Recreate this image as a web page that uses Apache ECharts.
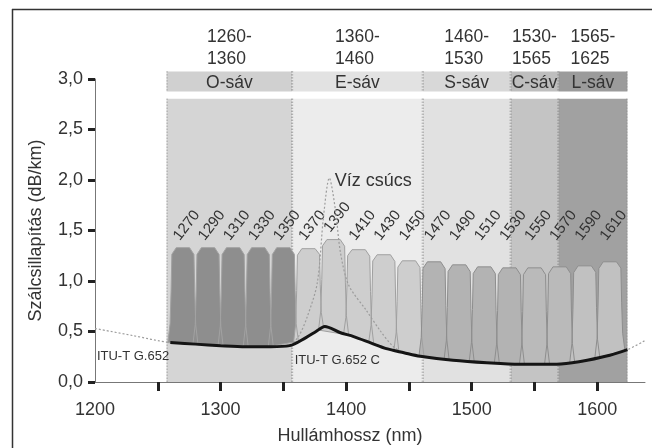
<!DOCTYPE html>
<html><head><meta charset="utf-8">
<script src="https://cdn.jsdelivr.net/npm/echarts@6/dist/echarts.min.js"></script>
<style>html,body{margin:0;padding:0;background:#fff}#c{width:653px;height:448px}</style>
</head><body><div id="c"></div>
<script>
// ---------- data ----------
const bandNames  = ['O-sáv', 'E-sáv', 'S-sáv', 'C-sáv', 'L-sáv'];
const bandRanges = ['1260-\n1360', '1360-\n1460', '1460-\n1530', '1530-\n1565', '1565-\n1625'];
const bandStart  = [1257, 1357, 1461, 1531, 1569];
const bandEnd    = [1357, 1461, 1531, 1569, 1624];

const channelNm   = [1270,1290,1310,1330,1350,1370,1390,1410,1430,1450,1470,1490,1510,1530,1550,1570,1590,1610];
const channelPeak = [1.33,1.33,1.33,1.33,1.33,1.32,1.41,1.31,1.26,1.20,1.19,1.16,1.14,1.13,1.13,1.14,1.15,1.19];

// ITU-T G.652 C (thick black)
const fiberNm   = [1260,1280,1300,1320,1340,1355,1368,1376,1383,1395,1406,1420,1432,1446,1459,1485,1512,1538,1565,1580,1592,1610,1624];
const fiberLoss = [0.39,0.375,0.36,0.35,0.35,0.36,0.44,0.50,0.55,0.49,0.45,0.385,0.33,0.29,0.255,0.215,0.19,0.175,0.175,0.19,0.215,0.265,0.32];

// ITU-T G.652 (thin, with water peak)
const g652Nm   = [1200,1230,1260,1300,1330,1355,1362,1369,1377,1382,1386.6,1391.5,1395.5,1402,1416,1427,1437.6,1447,1459,1485,1512,1538,1565,1592,1610,1624,1638];
const g652Loss = [0.53,0.46,0.39,0.36,0.35,0.37,0.45,0.645,0.98,1.64,2.02,1.70,1.28,0.96,0.71,0.51,0.35,0.285,0.255,0.215,0.19,0.175,0.175,0.215,0.265,0.32,0.41];

const xTickValues  = [1250,1300,1350,1400,1450,1500,1550,1600];
const xLabelValues = [1200,1300,1400,1500,1600];

const annotations = [
  { text: 'Víz csúcs',     nm: 1391,   loss: 1.99 },
  { text: 'ITU-T G.652',   nm: 1201.5, loss: 0.25 },
  { text: 'ITU-T G.652 C', nm: 1359,   loss: 0.21 }
];

// ---------- styles ----------
const FONT = '"Liberation Sans", Arial, sans-serif';
const bandAreaColor = ['#d5d5d5', '#ececec', '#e1e1e1', '#c4c4c4', '#a1a1a1'];
const bandHeadColor = ['#d0d0d0', '#e2e2e2', '#d8d8d8', '#bebebe', '#9b9b9b'];
function channelFill(nm) {
  if (nm < 1360) return '#8e8e8e';
  if (nm < 1460) return '#cecece';
  if (nm <= 1530) return '#b3b3b3';
  if (nm < 1580) return '#bababa';
  return '#c1c1c1';
}
function channelStroke(nm) {
  if (nm < 1360) return '#a2a2a2';
  if (nm < 1460) return '#a0a0a0';
  return '#8e8e8e';
}

function interp(xs, ys, x) {
  if (x <= xs[0]) return ys[0];
  if (x >= xs[xs.length - 1]) return ys[ys.length - 1];
  for (let i = 1; i < xs.length; i++) {
    if (x <= xs[i]) {
      const t = (x - xs[i - 1]) / (xs[i] - xs[i - 1]);
      return ys[i - 1] + t * (ys[i] - ys[i - 1]);
    }
  }
}

const measureCtx = document.createElement('canvas').getContext('2d');
function textWidth(s, size) {
  measureCtx.font = size + 'px ' + FONT;
  return Math.max.apply(null, s.split('\n').map(l => measureCtx.measureText(l).width));
}

// channel outline profile: [fraction of height, half width in nm]
const profile = [[1, 5.3], [0.93, 8.8], [0.55, 9.4], [0.2, 10.2], [0, 12]];
function channelPoints(api) {
  const c = api.value(0), h = api.value(1);
  const right = [], left = [];
  profile.forEach(([t, w]) => {
    const br = interp(fiberNm, fiberLoss, c + w);
    const bl = interp(fiberNm, fiberLoss, c - w);
    right.push(api.coord([c + w, br + t * (h - br)]));
    left.unshift(api.coord([c - w, bl + t * (h - bl)]));
  });
  return right.concat(left);
}

const chart = echarts.init(document.getElementById('c'), null, { renderer: 'canvas' });

const option = {
  animation: false,
  backgroundColor: '#ffffff',
  textStyle: { fontFamily: FONT },
  grid: { left: 95, right: 8, top: 79, bottom: 66, containLabel: false, outerBoundsMode: 'none' },
  xAxis: {
    type: 'value', min: 1200, max: 1638,
    name: 'Hullámhossz (nm)', nameLocation: 'middle', nameGap: 45,
    nameTextStyle: { fontSize: 18, color: '#333', fontFamily: FONT, padding: [0, 40, 0, 0] },
    axisLine: { show: true, onZero: true, lineStyle: { color: '#777', width: 1 } },
    axisTick: { show: true, customValues: xTickValues, length: 9, lineStyle: { color: '#222', width: 3 } },
    axisLabel: { customValues: xLabelValues, fontSize: 18, color: '#333', margin: 19, fontFamily: FONT,
      formatter: v => String(v) },
    splitLine: { show: false }
  },
  yAxis: {
    type: 'value', min: 0, max: 3, interval: 0.5,
    name: 'Szálcsillapítás (dB/km)', nameLocation: 'middle', nameGap: 50,
    nameTextStyle: { fontSize: 18, color: '#333', fontFamily: FONT },
    axisLine: { show: true, lineStyle: { color: '#777', width: 1 } },
    axisTick: { show: true, length: 7, lineStyle: { color: '#222', width: 3 } },
    axisLabel: { fontSize: 18, color: '#333', margin: 12, fontFamily: FONT,
      formatter: v => v.toFixed(1).replace('.', ',') },
    splitLine: { show: false }
  },
  graphic: [
    { type: 'line', shape: { x1: 12.5, y1: 9, x2: 12.5, y2: 448 }, style: { stroke: '#333', lineWidth: 1.5 }, silent: true },
    { type: 'line', shape: { x1: 12, y1: 9.5, x2: 652, y2: 9.5 }, style: { stroke: '#333', lineWidth: 1.5 }, silent: true }
  ],
  series: [
    {
      type: 'custom', name: 'bands', z: 1, clip: false, silent: true,
      data: bandStart.map((s, i) => [s, bandEnd[i]]),
      renderItem: (params, api) => {
        const i = params.dataIndex;
        const p0 = api.coord([api.value(0), 0]);
        const p1 = api.coord([api.value(1), 0]);
        const top = api.coord([api.value(0), 3])[1];
        const x0 = p0[0], x1 = p1[0], bottom = p0[1];
        const cx = (x0 + x1) / 2;
        const areaTop = top + 19.7, headTop = top - 7.6, headH = 20;
        const dash = { stroke: '#8a8a8a', lineWidth: 1, lineDash: [1, 2] };
        const rangeW = textWidth(bandRanges[i], 17.5);
        return {
          type: 'group',
          children: [
            { type: 'rect', shape: { x: x0, y: areaTop, width: x1 - x0, height: bottom - areaTop }, style: { fill: bandAreaColor[i] } },
            { type: 'rect', shape: { x: x0, y: headTop, width: x1 - x0, height: headH }, style: { fill: bandHeadColor[i] } },
            { type: 'line', shape: { x1: x0 + 0.5, y1: areaTop, x2: x0 + 0.5, y2: bottom }, style: dash },
            { type: 'line', shape: { x1: x1 - 0.5, y1: areaTop, x2: x1 - 0.5, y2: bottom }, style: dash },
            { type: 'line', shape: { x1: x0 + 0.5, y1: headTop, x2: x0 + 0.5, y2: headTop + headH }, style: dash },
            { type: 'line', shape: { x1: x1 - 0.5, y1: headTop, x2: x1 - 0.5, y2: headTop + headH }, style: dash },
            { type: 'text', x: cx, y: headTop + headH / 2 + 1.5,
              style: { text: bandNames[i], fill: '#333', font: '17.5px ' + FONT, align: 'center', verticalAlign: 'middle' } },
            { type: 'text', x: cx - rangeW / 2, y: top - 31,
              style: { text: bandRanges[i], fill: '#333', font: '17.5px ' + FONT, lineHeight: 21.5, align: 'left', verticalAlign: 'middle' } }
          ]
        };
      }
    },
    {
      type: 'custom', name: 'channel fill', z: 2, silent: true,
      data: channelNm.map((n, i) => [n, channelPeak[i]]),
      renderItem: (params, api) => ({
        type: 'polygon',
        shape: { points: channelPoints(api) },
        style: { fill: channelFill(api.value(0)), stroke: null }
      })
    },
    {
      type: 'custom', name: 'channel outline', z: 3, silent: true, clip: false,
      data: channelNm.map((n, i) => [n, channelPeak[i]]),
      renderItem: (params, api) => {
        const c = api.value(0), h = api.value(1);
        const lp = api.coord([c + 3, Math.max(h + 0.22, 1.55)]);
        return {
          type: 'group',
          children: [
            { type: 'polygon', shape: { points: channelPoints(api) },
              style: { fill: null, stroke: channelStroke(c), lineWidth: 1 } },
            { type: 'text', x: lp[0], y: lp[1], rotation: 52 * Math.PI / 180,
              style: { text: String(c), fill: '#333', font: '15px ' + FONT, align: 'center', verticalAlign: 'middle' } }
          ]
        };
      }
    },
    {
      type: 'line', name: 'ITU-T G.652', z: 4, silent: true,
      data: g652Nm.map((n, i) => [n, g652Loss[i]]),
      showSymbol: false, smooth: 0.3,
      lineStyle: { color: '#9c9c9c', width: 1.2, type: [2, 2] }
    },
    {
      type: 'line', name: 'ITU-T G.652 C', z: 5, silent: true,
      data: fiberNm.map((n, i) => [n, fiberLoss[i]]),
      showSymbol: false, smooth: 0.3,
      lineStyle: { color: '#151515', width: 3 }
    },
    {
      type: 'custom', name: 'annotations', z: 6, silent: true, clip: false,
      data: annotations.map(a => [a.nm, a.loss]),
      renderItem: (params, api) => {
        const a = annotations[params.dataIndex];
        const p = api.coord([api.value(0), api.value(1)]);
        const size = params.dataIndex === 0 ? 18 : 13;
        return { type: 'text', x: p[0], y: p[1],
          style: { text: a.text, fill: '#333', font: size + 'px ' + FONT, align: 'left', verticalAlign: 'middle' } };
      }
    }
  ]
};
chart.setOption(option);
</script>
</body></html>
